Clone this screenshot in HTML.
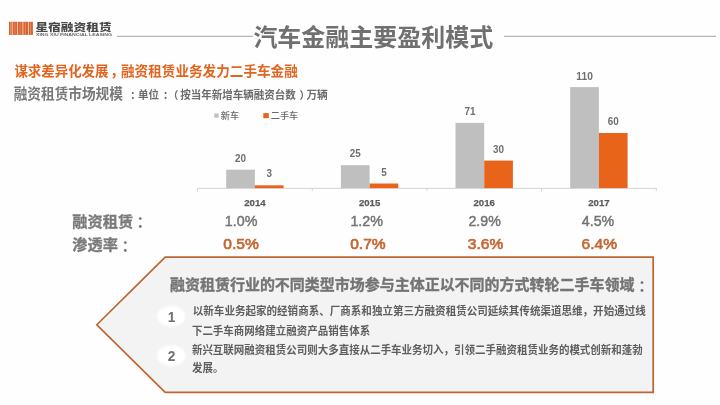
<!DOCTYPE html>
<html lang="zh"><head><meta charset="utf-8"><title>汽车金融主要盈利模式</title>
<style>
html,body{margin:0;padding:0;background:#fff;}
body{width:720px;height:405px;overflow:hidden;font-family:"Liberation Sans",sans-serif;position:relative;}
svg{position:absolute;left:0;top:0;display:block;will-change:transform;}
svg text.cj{font-family:"Liberation Sans","Noto Sans CJK SC",sans-serif;}
</style></head><body>
<svg width="720" height="405" viewBox="0 0 720 405">
<defs><filter id="bl" x="-20%" y="-20%" width="140%" height="140%"><feGaussianBlur stdDeviation="0.9"/></filter></defs>
<rect width="720" height="405" fill="#fefefe"/>
<rect x="117" y="35.8" width="135.8" height="1" fill="#a4a4a4"/>
<rect x="504" y="35.8" width="212" height="1" fill="#a4a4a4"/>
<g aria-label="logo">
<rect x="9" y="21.8" width="23.9" height="13.1" fill="#d9632f"/>
<rect x="11.8" y="21.8" width="0.8" height="13.1" fill="#fff" opacity=".8"/>
<rect x="17.1" y="21.8" width="0.8" height="13.1" fill="#fff" opacity=".8"/>
<rect x="22.5" y="21.8" width="0.8" height="13.1" fill="#fff" opacity=".8"/>
<rect x="28.0" y="21.8" width="0.8" height="13.1" fill="#fff" opacity=".8"/>
<rect x="10.1" y="22.4" width="0.7" height="12" fill="#fff" opacity=".35"/>
<rect x="14.6" y="22.4" width="0.7" height="12" fill="#fff" opacity=".35"/>
<rect x="19.8" y="22.4" width="0.7" height="12" fill="#fff" opacity=".35"/>
<rect x="25.2" y="22.4" width="0.7" height="12" fill="#fff" opacity=".35"/>
<rect x="30.3" y="22.4" width="0.7" height="12" fill="#fff" opacity=".35"/>
</g>
<g fill="#484848" aria-label="星宿融资租赁">
<text class="cj" x="35.4" y="30.7" font-size="10.2" font-weight="900" fill="#484848" textLength="76.3" lengthAdjust="spacingAndGlyphs">星宿融资租赁</text>
</g>
<text x="36" y="36.1" font-family="Liberation Sans, sans-serif" font-size="3.4" font-weight="bold" fill="#666" textLength="76" lengthAdjust="spacingAndGlyphs">XING XIU FINANCIAL LEASING</text>
<g fill="#707070" aria-label="汽车金融主要盈利模式">
<text class="cj" x="253.4" y="45.7" font-size="24.3" font-weight="bold" fill="#707070" textLength="239.8" lengthAdjust="spacingAndGlyphs">汽车金融主要盈利模式</text>
</g>
<g fill="#e2641e" aria-label="谋求差异化发展">
<text class="cj" x="14.4" y="76.4" font-size="13.9" font-weight="bold" fill="#e2641e" textLength="94.1" lengthAdjust="spacingAndGlyphs">谋求差异化发展</text>
</g>
<g fill="#e2641e">
<text class="cj" x="110.3" y="76.4" font-size="13.9" font-weight="bold" fill="#e2641e">，</text>
</g>
<g fill="#e2641e" aria-label="融资租赁业务发力二手车金融">
<text class="cj" x="121.0" y="76.4" font-size="13.9" font-weight="bold" fill="#e2641e" textLength="176.8" lengthAdjust="spacingAndGlyphs">融资租赁业务发力二手车金融</text>
</g>
<g fill="#787878" aria-label="融资租赁市场规模">
<text class="cj" x="13.7" y="99.1" font-size="14.3" font-weight="bold" fill="#787878" textLength="109.2" lengthAdjust="spacingAndGlyphs">融资租赁市场规模</text>
</g>
<g fill="#6c6c6c">
<text class="cj" x="130.3" y="98.6" font-size="10.4" font-weight="bold" fill="#6c6c6c">：</text>
</g>
<g fill="#6c6c6c" aria-label="单位">
<text class="cj" x="138.0" y="98.8" font-size="10.9" font-weight="bold" fill="#6c6c6c" textLength="21.0" lengthAdjust="spacingAndGlyphs">单位</text>
</g>
<g fill="#6c6c6c">
<text class="cj" x="163.1" y="98.6" font-size="10.4" font-weight="bold" fill="#6c6c6c">：</text>
</g>
<g fill="#6c6c6c">
<text class="cj" x="168.1" y="98.6" font-size="10.4" font-weight="bold" fill="#6c6c6c">（</text>
</g>
<g fill="#6c6c6c" aria-label="按当年新增车辆融资台数">
<text class="cj" x="180.2" y="98.8" font-size="10.9" font-weight="bold" fill="#6c6c6c" textLength="115.7" lengthAdjust="spacingAndGlyphs">按当年新增车辆融资台数</text>
</g>
<g fill="#6c6c6c">
<text class="cj" x="299.5" y="98.6" font-size="10.4" font-weight="bold" fill="#6c6c6c">）</text>
</g>
<g fill="#6c6c6c" aria-label="万辆">
<text class="cj" x="306.4" y="98.8" font-size="10.9" font-weight="bold" fill="#6c6c6c" textLength="21.4" lengthAdjust="spacingAndGlyphs">万辆</text>
</g>
<rect x="214.3" y="113.5" width="4.3" height="4.2" fill="#bfbfbf"/>
<g fill="#6a6a6a" aria-label="新车">
<text class="cj" x="220.8" y="119.4" font-size="9.1" font-weight="500" fill="#6a6a6a" textLength="18.2" lengthAdjust="spacingAndGlyphs">新车</text>
</g>
<rect x="263.3" y="113.1" width="5.5" height="5.1" fill="#e8641b"/>
<g fill="#6a6a6a" aria-label="二手车">
<text class="cj" x="270.8" y="119.4" font-size="9.1" font-weight="500" fill="#6a6a6a" textLength="27.5" lengthAdjust="spacingAndGlyphs">二手车</text>
</g>
<rect x="197.6" y="187.9" width="458.7" height="0.9" fill="#d0d0d0"/>
<rect x="197.1" y="187.9" width="0.9" height="3.2" fill="#d0d0d0"/>
<rect x="311.8" y="187.9" width="0.9" height="3.2" fill="#d0d0d0"/>
<rect x="426.5" y="187.9" width="0.9" height="3.2" fill="#d0d0d0"/>
<rect x="541.1" y="187.9" width="0.9" height="3.2" fill="#d0d0d0"/>
<rect x="655.8" y="187.9" width="0.9" height="3.2" fill="#d0d0d0"/>
<rect x="226.2" y="169.7" width="28.7" height="18.4" fill="#bfbfbf"/>
<rect x="254.9" y="185.3" width="28.7" height="2.8" fill="#e8641b"/>
<text x="240.6" y="161.7" font-family="Liberation Sans, sans-serif" font-size="10.5" font-weight="bold" fill="#6e6e6e" text-anchor="middle" textLength="11.0" lengthAdjust="spacingAndGlyphs">20</text>
<text x="269.3" y="176.5" font-family="Liberation Sans, sans-serif" font-size="10.5" font-weight="bold" fill="#6e6e6e" text-anchor="middle" textLength="5.5" lengthAdjust="spacingAndGlyphs">3</text>
<text x="254.9" y="205.8" font-family="Liberation Sans, sans-serif" font-size="9.8" font-weight="bold" fill="#5c5c5c" stroke="#5c5c5c" stroke-width=".25" text-anchor="middle" textLength="21.4" lengthAdjust="spacingAndGlyphs">2014</text>
<rect x="340.9" y="165.2" width="28.7" height="22.9" fill="#bfbfbf"/>
<rect x="369.6" y="183.5" width="28.7" height="4.6" fill="#e8641b"/>
<text x="355.2" y="156.7" font-family="Liberation Sans, sans-serif" font-size="10.5" font-weight="bold" fill="#6e6e6e" text-anchor="middle" textLength="11.0" lengthAdjust="spacingAndGlyphs">25</text>
<text x="383.9" y="175.8" font-family="Liberation Sans, sans-serif" font-size="10.5" font-weight="bold" fill="#6e6e6e" text-anchor="middle" textLength="5.5" lengthAdjust="spacingAndGlyphs">5</text>
<text x="369.6" y="205.8" font-family="Liberation Sans, sans-serif" font-size="9.8" font-weight="bold" fill="#5c5c5c" stroke="#5c5c5c" stroke-width=".25" text-anchor="middle" textLength="21.4" lengthAdjust="spacingAndGlyphs">2015</text>
<rect x="455.5" y="122.9" width="28.7" height="65.2" fill="#bfbfbf"/>
<rect x="484.2" y="160.6" width="28.7" height="27.5" fill="#e8641b"/>
<text x="469.9" y="114.8" font-family="Liberation Sans, sans-serif" font-size="10.5" font-weight="bold" fill="#6e6e6e" text-anchor="middle" textLength="11.0" lengthAdjust="spacingAndGlyphs">71</text>
<text x="498.6" y="153.3" font-family="Liberation Sans, sans-serif" font-size="10.5" font-weight="bold" fill="#6e6e6e" text-anchor="middle" textLength="11.0" lengthAdjust="spacingAndGlyphs">30</text>
<text x="484.2" y="205.8" font-family="Liberation Sans, sans-serif" font-size="9.8" font-weight="bold" fill="#5c5c5c" stroke="#5c5c5c" stroke-width=".25" text-anchor="middle" textLength="21.4" lengthAdjust="spacingAndGlyphs">2016</text>
<rect x="570.2" y="87.1" width="28.7" height="101.0" fill="#bfbfbf"/>
<rect x="598.9" y="133.0" width="28.7" height="55.1" fill="#e8641b"/>
<text x="584.6" y="79.8" font-family="Liberation Sans, sans-serif" font-size="10.5" font-weight="bold" fill="#6e6e6e" text-anchor="middle" textLength="16.5" lengthAdjust="spacingAndGlyphs">110</text>
<text x="613.3" y="125.1" font-family="Liberation Sans, sans-serif" font-size="10.5" font-weight="bold" fill="#6e6e6e" text-anchor="middle" textLength="11.0" lengthAdjust="spacingAndGlyphs">60</text>
<text x="598.9" y="205.8" font-family="Liberation Sans, sans-serif" font-size="9.8" font-weight="bold" fill="#5c5c5c" stroke="#5c5c5c" stroke-width=".25" text-anchor="middle" textLength="21.4" lengthAdjust="spacingAndGlyphs">2017</text>
<g fill="#7a7a7a" aria-label="融资租赁">
<text class="cj" x="72.3" y="226.5" font-size="15" font-weight="bold" fill="#7a7a7a" stroke="#7a7a7a" stroke-width=".3" textLength="60.8" lengthAdjust="spacingAndGlyphs">融资租赁</text>
</g>
<g fill="#7a7a7a">
<text class="cj" x="136.6" y="227.1" font-size="15.2" font-weight="bold" fill="#7a7a7a">：</text>
</g>
<g fill="#7a7a7a" aria-label="渗透率">
<text class="cj" x="72.3" y="250.3" font-size="15" font-weight="bold" fill="#7a7a7a" stroke="#7a7a7a" stroke-width=".3" textLength="45.6" lengthAdjust="spacingAndGlyphs">渗透率</text>
</g>
<g fill="#7a7a7a">
<text class="cj" x="121.6" y="250.9" font-size="15.2" font-weight="bold" fill="#7a7a7a">：</text>
</g>
<text x="241.1" y="225.9" font-family="Liberation Sans, sans-serif" font-size="15.2" fill="#737373" stroke="#737373" stroke-width=".45" text-anchor="middle" textLength="32.6" lengthAdjust="spacingAndGlyphs">1.0%</text>
<text x="366.7" y="225.9" font-family="Liberation Sans, sans-serif" font-size="15.2" fill="#737373" stroke="#737373" stroke-width=".45" text-anchor="middle" textLength="32.6" lengthAdjust="spacingAndGlyphs">1.2%</text>
<text x="484.6" y="225.9" font-family="Liberation Sans, sans-serif" font-size="15.2" fill="#737373" stroke="#737373" stroke-width=".45" text-anchor="middle" textLength="32.3" lengthAdjust="spacingAndGlyphs">2.9%</text>
<text x="598.0" y="225.9" font-family="Liberation Sans, sans-serif" font-size="15.2" fill="#737373" stroke="#737373" stroke-width=".45" text-anchor="middle" textLength="32.5" lengthAdjust="spacingAndGlyphs">4.5%</text>
<text x="241.0" y="249.4" font-family="Liberation Sans, sans-serif" font-size="15.2" fill="#c46834" stroke="#c46834" stroke-width=".7" text-anchor="middle" textLength="35.4" lengthAdjust="spacingAndGlyphs">0.5%</text>
<text x="367.9" y="249.4" font-family="Liberation Sans, sans-serif" font-size="15.2" fill="#c46834" stroke="#c46834" stroke-width=".7" text-anchor="middle" textLength="35.4" lengthAdjust="spacingAndGlyphs">0.7%</text>
<text x="485.5" y="249.4" font-family="Liberation Sans, sans-serif" font-size="15.2" fill="#c46834" stroke="#c46834" stroke-width=".7" text-anchor="middle" textLength="35.4" lengthAdjust="spacingAndGlyphs">3.6%</text>
<text x="599.3" y="249.4" font-family="Liberation Sans, sans-serif" font-size="15.2" fill="#c46834" stroke="#c46834" stroke-width=".7" text-anchor="middle" textLength="35.4" lengthAdjust="spacingAndGlyphs">6.4%</text>
<polygon points="96.8,324.75 165.2,257.1 653.2,257.1 653.2,392.4 165.2,392.4" fill="#f3f3f4" stroke="#bd6633" stroke-width="1.75" stroke-linejoin="miter"/>
<g fill="#747474" aria-label="融资租赁行业的不同类型市场参与主体正以不同的方式转轮二手车领域">
<text class="cj" x="170.0" y="290.3" font-size="14.9" font-weight="bold" fill="#747474" stroke="#747474" stroke-width=".35" textLength="464.4" lengthAdjust="spacingAndGlyphs">融资租赁行业的不同类型市场参与主体正以不同的方式转轮二手车领域</text>
</g>
<g fill="#727272">
<text class="cj" x="638.3" y="290.8" font-size="15" font-weight="bold" fill="#727272">：</text>
</g>
<ellipse cx="171.3" cy="316.3" rx="14.2" ry="10.2" fill="#fff" filter="url(#bl)"/>
<ellipse cx="171.3" cy="355.6" rx="14.2" ry="10.4" fill="#fff" filter="url(#bl)"/>
<text x="171.6" y="321.9" font-family="Liberation Sans, sans-serif" font-size="15.2" font-weight="bold" fill="#707070" text-anchor="middle" textLength="7.6" lengthAdjust="spacingAndGlyphs">1</text>
<text x="171.5" y="361.2" font-family="Liberation Sans, sans-serif" font-size="15.2" font-weight="bold" fill="#707070" text-anchor="middle" textLength="7.6" lengthAdjust="spacingAndGlyphs">2</text>
<g fill="#5e5e5e" aria-label="以新车业务起家的经销商系、厂商系和独立第三方融资租赁公司延续其传统渠道思维，开始通过线">
<text class="cj" x="192.8" y="314.6" font-size="10.9" font-weight="bold" fill="#5e5e5e" textLength="453.0" lengthAdjust="spacingAndGlyphs">以新车业务起家的经销商系、厂商系和独立第三方融资租赁公司延续其传统渠道思维，开始通过线</text>
</g>
<g fill="#5e5e5e" aria-label="下二手车商网络建立融资产品销售体系">
<text class="cj" x="191.9" y="335.3" font-size="10.9" font-weight="bold" fill="#5e5e5e" textLength="178.3" lengthAdjust="spacingAndGlyphs">下二手车商网络建立融资产品销售体系</text>
</g>
<g fill="#5e5e5e" aria-label="新兴互联网融资租赁公司则大多直接从二手车业务切入，引领二手融资租赁业务的模式创新和蓬勃">
<text class="cj" x="191.9" y="353.9" font-size="10.9" font-weight="bold" fill="#5e5e5e" textLength="450.9" lengthAdjust="spacingAndGlyphs">新兴互联网融资租赁公司则大多直接从二手车业务切入，引领二手融资租赁业务的模式创新和蓬勃</text>
</g>
<g fill="#5e5e5e" aria-label="发展。">
<text class="cj" x="191.9" y="371.6" font-size="10.9" font-weight="bold" fill="#5e5e5e" textLength="31.5" lengthAdjust="spacingAndGlyphs">发展。</text>
</g>
</svg>
</body></html>
